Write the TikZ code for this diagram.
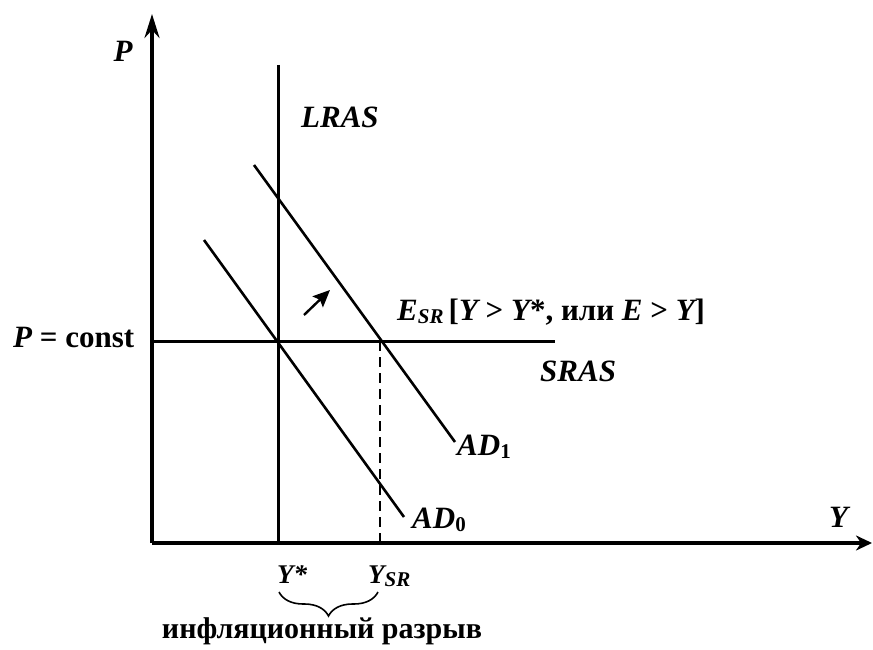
\documentclass[tikz,border=0pt]{standalone}
\usepackage{fontspec}
\setmainfont{Liberation Serif}
\usetikzlibrary{arrows.meta,decorations.pathreplacing}
\newcommand\mysub[1]{\raisebox{-0.12em}{\fontsize{21}{24}\selectfont #1}}
\tikzset{
  lbl/.style={inner sep=0pt, font=\fontsize{31}{36}\selectfont\bfseries\itshape},
  lblsm/.style={inner sep=0pt, font=\fontsize{27}{32}\selectfont\bfseries\itshape},
  axis/.style={line width=3.5pt},
  curve/.style={line width=2.6pt},
}
\begin{document}
\begin{tikzpicture}[x=1pt,y=-1pt]
\useasboundingbox (0,0) rectangle (873,650);
% coordinates
\coordinate (O) at (152,543);
\coordinate (Ytop) at (152,14);
\coordinate (Xend) at (872,543);
\coordinate (Ltop) at (278,65);
\coordinate (Lbot) at (278,543);
\coordinate (Sl) at (152,341);
\coordinate (Sr) at (555,341);
\coordinate (A1s) at (254,165);
\coordinate (A1e) at (455,442);
\coordinate (A0s) at (204,240);
\coordinate (A0e) at (404,517);
\coordinate (E) at (380,341);
\coordinate (Eb) at (380,543);
\coordinate (ArS) at (304,315);
\coordinate (ArE) at (330,290);
\coordinate (Bl) at (279,592);
\coordinate (Br) at (378,592);
% axes
\draw[axis,-{Stealth[length=24pt,width=15pt,inset=8pt]}] (O) -- (Ytop);
\draw[axis,-{Stealth[length=16pt,width=15pt,inset=5pt]}] (O) -- (Xend);
% lines
\draw[line width=3pt] (Ltop) -- (Lbot);
\draw[line width=3pt] (Sl) -- (Sr);
\draw[curve] (A1s) -- (A1e);
\draw[curve] (A0s) -- (A0e);
\draw[line width=2.4pt,dash pattern=on 10pt off 6pt] (E) -- (Eb);
\draw[line width=2.4pt,-{Stealth[length=17pt,width=15pt,inset=3pt]}] (ArS) -- (ArE);
\draw[line width=1.6pt,decorate,decoration={brace,amplitude=24pt}] (Br) -- (Bl);
% labels
\node[lbl,anchor=base] (p) at (123,62) {P};
\node[lbl,anchor=base west] (pc) at (13,347) {P\upshape{} = const};
\node[lbl,anchor=base west] (lras) at (301,128) {LRAS};
\node[lbl,anchor=base west] (esr) at (397,320) {E\mysub{SR}\,\upshape[\itshape Y \upshape> \itshape Y\upshape*, или \itshape E \upshape> \itshape Y\upshape]};
\node[lbl,anchor=base west] (sras) at (540,381) {SRAS};
\node[lbl,anchor=base west] (ad1) at (457,455) {AD\mysub{\upshape 1}};
\node[lbl,anchor=base west] (ad0) at (412,528) {AD\mysub{\upshape 0}};
\node[lbl,anchor=base west] (yl) at (829,527) {Y};
\node[lblsm,anchor=base west] (ys) at (277,583) {Y*};
\node[lblsm,anchor=base west] (ysr) at (368,583) {Y\mysub{SR}};
\node[lbl,anchor=base,font=\fontsize{30}{34}\selectfont\bfseries] (gap) at (322,638) {инфляционный разрыв};
\end{tikzpicture}
\end{document}
